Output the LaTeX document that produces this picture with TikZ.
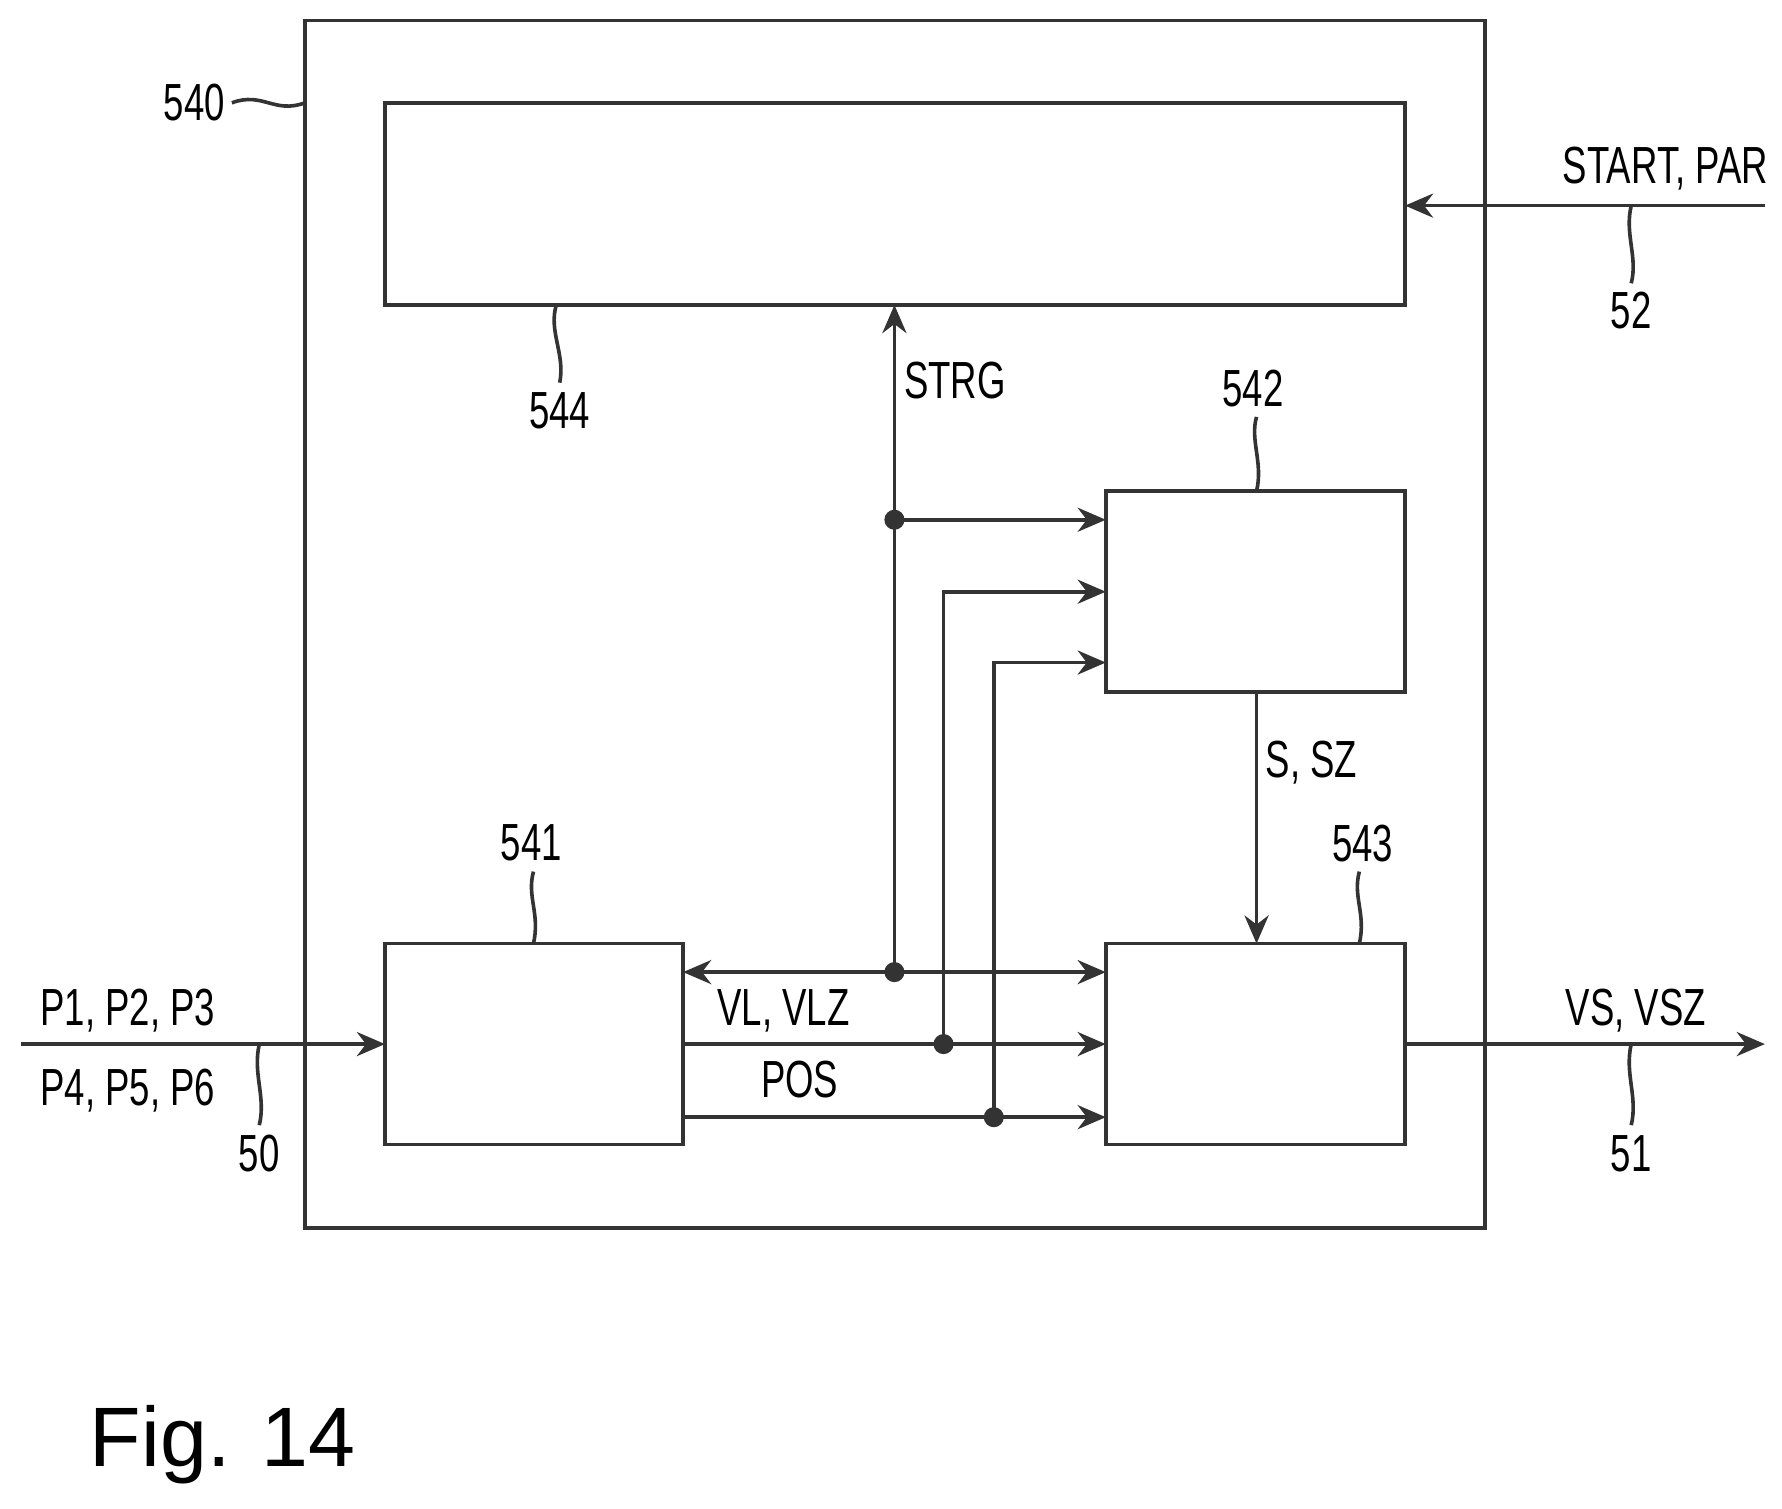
\documentclass[tikz,border=0pt]{standalone}
\usepackage{fontspec}
\setmainfont{Liberation Sans}
\usetikzlibrary{arrows.meta}
\begin{document}
\begin{tikzpicture}[x=0.01cm,y=-0.01cm,
 ln/.style={line width=0.9pt,draw=black!80},
 arr/.style={ln,-{Stealth[length=7pt,width=6pt]}},
 box/.style={ln,draw,fill=none},
 lab/.style={font=\fontsize{13}{15}\selectfont,xscale=0.7,inner sep=0pt},
 dot/.style={circle,fill=black!80,inner sep=0pt,minimum size=5pt}]
\useasboundingbox (0,0) rectangle (1560,1321);
\draw[box] (267,18) rectangle (1300,1075);
\draw[box] (337,90) rectangle (1230,267);
\draw[box] (968,430) rectangle (1230,606);
\draw[box] (337,826) rectangle (598,1002);
\draw[box] (968,826) rectangle (1230,1002);
\coordinate (d1) at (783,455); \coordinate (d2) at (783,851);
\coordinate (d3) at (826,914); \coordinate (d4) at (870,978);
\draw[arr] (d2) -- (783,267);
\draw[arr] (d1) -- (968,455);
\draw[ln,{Stealth[length=7pt,width=6pt]}-{Stealth[length=7pt,width=6pt]}] (598,851) -- (968,851);
\draw[arr] (598,914) -- (968,914);
\draw[arr] (598,978) -- (968,978);
\draw[arr] (d3) -- (826,518) -- (968,518);
\draw[arr] (d4) -- (870,580) -- (968,580);
\foreach \d in {d1,d2,d3,d4} \node[dot] at (\d) {};
\draw[arr] (1100,606) -- (1100,826);
\draw[arr] (18,914) -- (337,914);
\draw[arr] (1230,914) -- (1545,914);
\draw[arr] (1545,180) -- (1230,180);
% leaders
\draw[ln] (203,90) .. controls (230,80) and (240,100) .. (267,90);
\draw[ln] (487,267) .. controls (480,290) and (495,310) .. (490,335);
\draw[ln] (1100,430) .. controls (1106,405) and (1094,385) .. (1100,365);
\draw[ln] (467,826) .. controls (473,800) and (461,785) .. (467,763);
\draw[ln] (1190,826) .. controls (1196,800) and (1184,785) .. (1190,763);
\draw[ln] (1428,180) .. controls (1422,205) and (1434,225) .. (1428,248);
\draw[ln] (227,914) .. controls (221,940) and (233,960) .. (227,985);
\draw[ln] (1428,914) .. controls (1422,940) and (1434,960) .. (1428,985);
% labels
\node[lab] at (170,90) {540};
\node[lab] at (490,360) {544};
\node[lab] at (1097,340) {542};
\node[lab] at (465,738) {541};
\node[lab] at (1193,738) {543};
\node[lab] at (1428,272) {52};
\node[lab] at (227,1010) {50};
\node[lab] at (1428,1010) {51};
\node[lab] at (1458,148) {START, PAR};
\node[lab] at (112,885) {P1, P2, P3};
\node[lab] at (112,955) {P4, P5, P6};
\node[lab] at (1432,885) {VS, VSZ};
\node[lab] at (686,885) {VL, VLZ};
\node[lab] at (700,945) {POS};
\node[lab] at (836,333) {STRG};
\node[lab] at (1148,668) {S, SZ};
\node[inner sep=0pt,font=\fontsize{21}{24}\selectfont] at (195,1265) {Fig. 14};
\end{tikzpicture}
\end{document}
